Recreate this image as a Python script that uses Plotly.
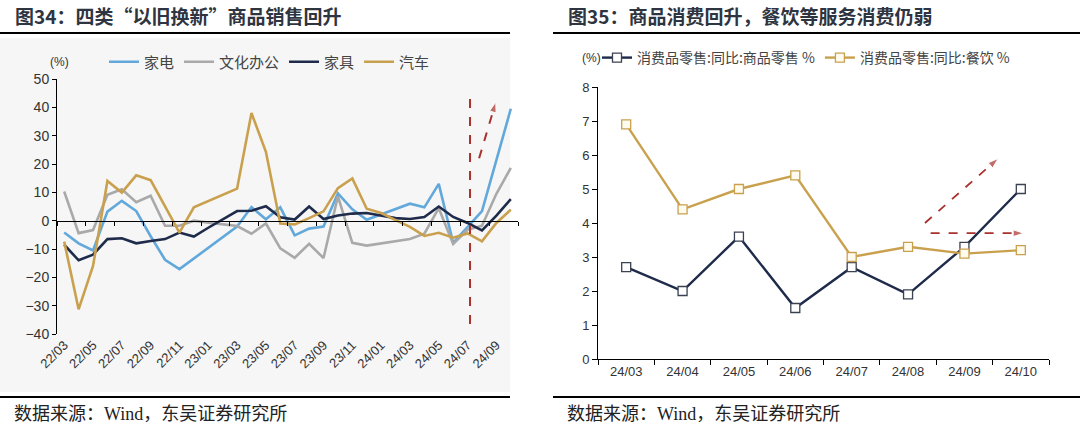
import plotly.graph_objects as go

# ---------------- data: left chart ----------------
months_left = ["22/03","22/04","22/05","22/06","22/07","22/08","22/09","22/10","22/11","22/12",
               "23/01","23/02","23/03","23/04","23/05","23/06","23/07","23/08","23/09","23/10",
               "23/11","23/12","24/01","24/02","24/03","24/04","24/05","24/06","24/07","24/08",
               "24/09","24/10"]
appliances = [-4.2,-8.0,-10.5,3.2,7.0,3.4,-5.5,-13.8,-17.1,-13.3,-9.6,-5.8,-2.1,4.8,0.5,4.7,
              -5.2,-2.8,-2.1,9.6,4.0,0.3,2.2,4.2,6.0,4.7,13.0,-7.8,-2.3,3.4,21.4,39.5]
office = [10.3,-4.4,-3.3,9.1,11.1,6.5,8.8,-1.8,-1.8,0.0,-0.7,-1.2,-1.9,-4.6,-1.0,-9.8,
          -13.1,-8.2,-13.2,8.6,-7.8,-8.8,-8.1,-7.4,-6.5,-4.6,4.4,-8.2,-3.2,-1.8,9.5,18.6]
furniture = [-8.5,-14.0,-12.0,-6.5,-6.2,-8.0,-7.2,-6.5,-4.2,-5.6,-2.5,0.5,3.4,3.5,5.1,1.2,
             0.4,5.0,0.6,1.8,2.5,2.7,1.8,0.9,0.6,1.3,5.0,1.3,-0.8,-3.4,1.8,7.6]
autos = [-7.4,-31.3,-16.0,14.0,9.9,16.0,14.3,5.3,-4.2,4.7,6.9,8.9,11.3,38.0,24.3,-1.0,
         -1.3,0.9,3.3,11.5,14.9,4.2,2.7,0.2,-2.2,-5.4,-4.3,-6.0,-4.5,-7.3,-0.8,3.9]
left_names = ["家电", "文化办公", "家具", "汽车"]
left_yticks = [-40, -30, -20, -10, 0, 10, 20, 30, 40, 50]

# ---------------- data: right chart ----------------
months_right = ["24/03","24/04","24/05","24/06","24/07","24/08","24/09","24/10"]
goods_retail = [2.7, 2.0, 3.6, 1.5, 2.7, 1.9, 3.3, 5.0]
catering = [6.9, 4.4, 5.0, 5.4, 3.0, 3.3, 3.1, 3.2]
right_names = ["消费品零售:同比:商品零售 %", "消费品零售:同比:餐饮 %"]
right_yticks = [0, 1, 2, 3, 4, 5, 6, 7, 8]

# ---------------- styling ----------------
W, H = 1080, 429
C_BLUE, C_GRAY, C_NAVY, C_GOLD = "#62A8DB", "#A9A9A9", "#1F2B4A", "#C9A14E"
C_RED = "#A8322D"
CJK = "Noto Sans CJK SC"
NUM = "Liberation Sans"
TXT = "#333333"

def px_x(p):
    return p / W

def px_y(p):
    return 1 - p / H

# left plot area (pixels)
L_X0, L_X1, L_YTOP, L_YBOT = 57, 518, 79, 334
# right plot area (pixels)
R_X0, R_X1, R_YTOP, R_YBOT = 598, 1049, 87, 359

# annotation geometry (in data units)
VLINE_X, VLINE_Y0, VLINE_Y1 = 28.17, -36.5, 43.6
ARROW_L = ([28.8, 29.96], [22.0, 41.9])
ARROW_R1 = ([5.3, 6.6], [4.0, 5.9])
ARROW_R2 = ([5.4, 7.05], [3.7, 3.7])

xi_left = list(range(len(months_left)))
xi_right = list(range(len(months_right)))

fig = go.Figure()

# light panel behind left chart
fig.add_shape(type="rect", xref="paper", yref="paper", x0=0, x1=px_x(510), y0=px_y(392), y1=px_y(38),
              fillcolor="#f6f6f6", line_width=0, layer="below")

for name, vals, col in zip(left_names, [appliances, office, furniture, autos], [C_BLUE, C_GRAY, C_NAVY, C_GOLD]):
    fig.add_trace(go.Scatter(x=xi_left, y=vals, mode="lines", name=name,
                             line=dict(color=col, width=2.6), xaxis="x", yaxis="y",
                             legend="legend", hoverinfo="skip"))

# invisible trace to bind the zero-line axis
fig.add_trace(go.Scatter(x=xi_left, y=[0]*len(xi_left), mode="lines", line=dict(width=0),
                         opacity=0, showlegend=False, xaxis="x3", yaxis="y", hoverinfo="skip"))

# left dashed arrow
fig.add_trace(go.Scatter(x=ARROW_L[0], y=ARROW_L[1], mode="lines+markers", showlegend=False,
                         line=dict(color=C_RED, width=2, dash="dash"),
                         marker=dict(symbol=["circle", "arrow"], size=[0, 11], color=C_RED, angleref="previous"),
                         xaxis="x", yaxis="y", hoverinfo="skip"))

# right chart traces
fig.add_trace(go.Scatter(x=xi_right, y=goods_retail, mode="lines+markers", name=right_names[0],
                         line=dict(color=C_NAVY, width=2.4),
                         marker=dict(symbol="square", size=9, color="white", line=dict(color="#3a4252", width=1.3)),
                         xaxis="x2", yaxis="y2", legend="legend2", hoverinfo="skip"))
fig.add_trace(go.Scatter(x=xi_right, y=catering, mode="lines+markers", name=right_names[1],
                         line=dict(color=C_GOLD, width=2.4),
                         marker=dict(symbol="square", size=9, color="#fffcef", line=dict(color=C_GOLD, width=1.3)),
                         xaxis="x2", yaxis="y2", legend="legend2", hoverinfo="skip"))
for ax_, ay_ in (ARROW_R1, ARROW_R2):
    fig.add_trace(go.Scatter(x=ax_, y=ay_, mode="lines+markers", showlegend=False,
                             line=dict(color=C_RED, width=1.8, dash="dash"),
                             marker=dict(symbol=["circle", "arrow"], size=[0, 11], color=C_RED, angleref="previous"),
                             xaxis="x2", yaxis="y2", hoverinfo="skip"))

# vertical dashed line (left)
fig.add_shape(type="line", xref="x", yref="y", x0=VLINE_X, x1=VLINE_X, y0=VLINE_Y0, y1=VLINE_Y1,
              line=dict(color=C_RED, width=2, dash="dash"))

left_ydom = [px_y(L_YBOT), px_y(L_YTOP)]
zero_pos = left_ydom[0] + (0 - left_yticks[0]) / (left_yticks[-1] - left_yticks[0]) * (left_ydom[1] - left_ydom[0])

fig.update_layout(
    width=W, height=H, margin=dict(l=0, r=0, t=0, b=0, pad=0, autoexpand=False),
    paper_bgcolor="white", plot_bgcolor="rgba(0,0,0,0)",
    font=dict(family=CJK, size=12, color=TXT),
    xaxis=dict(domain=[px_x(L_X0), px_x(L_X1)], range=[-0.5, len(months_left) - 0.5],
               tickmode="array", tickvals=xi_left[::2], ticktext=months_left[::2], tickangle=-45,
               ticks="", showline=False, showgrid=False, zeroline=False, automargin=False,
               tickfont=dict(family=NUM, size=13, color=TXT), anchor="y"),
    yaxis=dict(domain=left_ydom, range=[left_yticks[0], left_yticks[-1]], tickmode="array",
               tickvals=left_yticks, ticktext=[str(v).replace("-", "−") for v in left_yticks],
               ticks="outside", ticklen=4, tickcolor="black", showline=True, linecolor="black", linewidth=1,
               showgrid=False, zeroline=False, automargin=False,
               tickfont=dict(family=NUM, size=14, color=TXT), anchor="x"),
    xaxis3=dict(overlaying="x", anchor="free", position=zero_pos, range=[-0.5, len(months_left) - 0.5],
                tickmode="array", tickvals=[v - 0.5 for v in xi_left[::2]] + [len(months_left) - 0.5],
                showticklabels=False, ticks="outside", ticklen=4, tickcolor="black", automargin=False,
                showline=True, linecolor="black", linewidth=1, showgrid=False, zeroline=False),
    xaxis2=dict(domain=[px_x(R_X0), px_x(R_X1)], range=[-0.5, len(months_right) - 0.5],
                tickmode="array", tickvals=xi_right, ticktext=months_right, ticks="",
                minor=dict(tickmode="array", tickvals=[v - 0.5 for v in xi_right] + [len(months_right) - 0.5],
                           ticks="outside", ticklen=5, tickcolor="black", showgrid=False),
                showline=True, linecolor="black", linewidth=1, showgrid=False, zeroline=False, automargin=False,
                tickfont=dict(family=NUM, size=13, color=TXT), anchor="y2"),
    yaxis2=dict(domain=[px_y(R_YBOT), px_y(R_YTOP)], range=[right_yticks[0], right_yticks[-1]],
                tickmode="array", tickvals=right_yticks, ticks="outside", ticklen=5, tickcolor="black",
                showline=True, linecolor="black", linewidth=1, showgrid=False, zeroline=False, automargin=False,
                tickfont=dict(family=NUM, size=13, color=TXT), anchor="x2"),
    legend=dict(orientation="h", x=px_x(104), y=px_y(62), xanchor="left", yanchor="middle",
                bgcolor="rgba(0,0,0,0)", font=dict(family=CJK, size=15, color="#444444"), itemwidth=30),
    legend2=dict(orientation="h", x=px_x(597), y=px_y(58), xanchor="left", yanchor="middle",
                 bgcolor="rgba(0,0,0,0)", font=dict(family=CJK, size=14, color="#444444"), itemwidth=30),
    showlegend=True,
)

# titles, rules, source notes
for x0, x1, title in ((0, 510, "图34：四类“以旧换新”商品销售回升"), (553, 1080, "图35：商品消费回升，餐饮等服务消费仍弱")):
    fig.add_annotation(xref="paper", yref="paper", x=px_x(x0 + 13), y=px_y(15), xanchor="left", yanchor="middle",
                       text="<b>" + title + "</b>", showarrow=False,
                       font=dict(family=CJK, size=19, color="#2e3440"))
    fig.add_shape(type="line", xref="paper", yref="paper", x0=px_x(x0), x1=px_x(x1), y0=px_y(33), y1=px_y(33),
                  line=dict(color="black", width=2.2))
    fig.add_shape(type="line", xref="paper", yref="paper", x0=px_x(x0), x1=px_x(x1), y0=px_y(397), y1=px_y(397),
                  line=dict(color="black", width=2.2))
    fig.add_annotation(xref="paper", yref="paper", x=px_x(x0 + 12), y=px_y(414), xanchor="left", yanchor="middle",
                       text="数据来源：Wind，东吴证券研究所", showarrow=False,
                       font=dict(family="Liberation Serif, " + CJK, size=18, color="#222222"))

fig.add_annotation(xref="paper", yref="paper", x=px_x(48), y=px_y(62), xanchor="left", yanchor="middle",
                   text="(%)", showarrow=False, font=dict(family=NUM, size=12, color=TXT))
fig.add_annotation(xref="paper", yref="paper", x=px_x(580), y=px_y(58), xanchor="left", yanchor="middle",
                   text="(%)", showarrow=False, font=dict(family=NUM, size=12, color=TXT))

fig.write_html("out.html", config={"displayModeBar": False},
               post_script="document.body.style.margin='0';document.body.style.overflow='hidden';")
